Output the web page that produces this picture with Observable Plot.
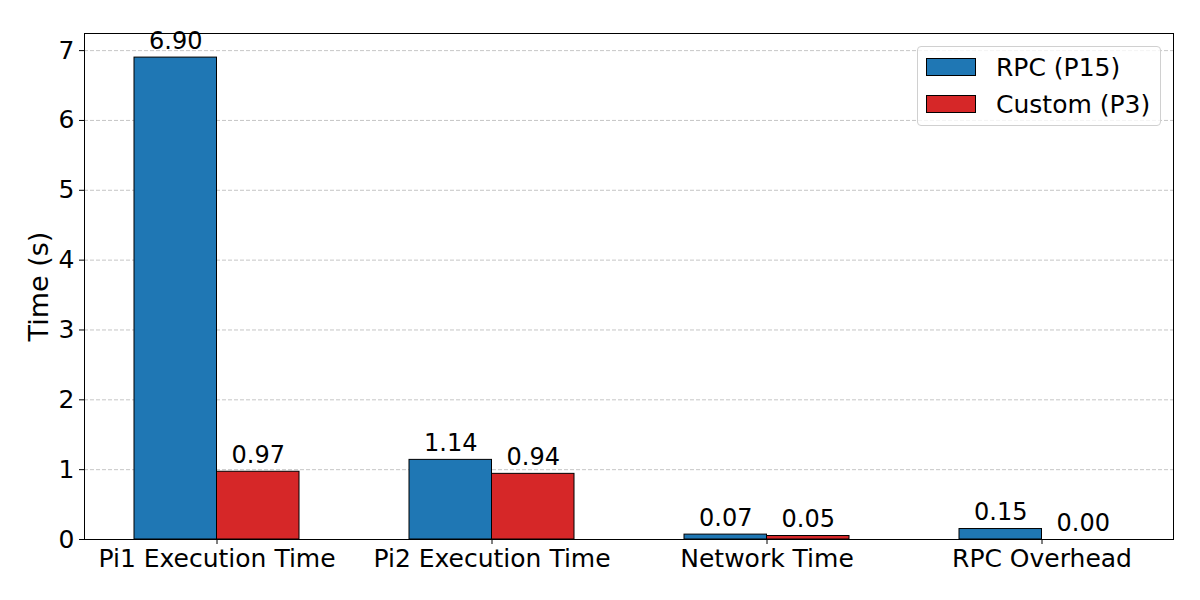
<!DOCTYPE html>
<html>
<head>
<meta charset="utf-8">
<script src="https://cdn.jsdelivr.net/npm/d3@7"></script>
<script src="https://cdn.jsdelivr.net/npm/@observablehq/plot@0.6"></script>
<style>
  body { margin: 0; background: #fff; font-family: "DejaVu Sans", sans-serif; }
  #wrap { position: relative; width: 1200px; height: 600px; }
  #legend {
    position: absolute; left: 917px; top: 46px; width: 242px; height: 78px;
    border: 1px solid #d0d0d0; border-radius: 4px; background: rgba(255,255,255,0.8);
    font-family: "DejaVu Sans", sans-serif; font-size: 25px; color: #000;
  }
  .row { position: absolute; left: 8px; height: 30px; display: flex; align-items: center; }
  .sw { width: 48px; height: 16px; border: 1px solid #000; margin-right: 20px; }
</style>
</head>
<body>
<div id="wrap">
  <div id="chart"></div>
  <div id="legend"></div>
</div>
<script>
const categories = ["Pi1 Execution Time", "Pi2 Execution Time", "Network Time", "RPC Overhead"];
const seriesNames = ["RPC (P15)", "Custom (P3)"];
const rpcValues = [6.90, 1.14, 0.07, 0.15];
const customValues = [0.97, 0.94, 0.05, 0.00];
const seriesColors = ["#1f77b4", "#d62728"];
const yTicks = [0, 1, 2, 3, 4, 5, 6, 7];
const yLabel = "Time (s)";

const W = 1200, H = 600;
const mL = 84, mR = 27, mT = 33, mB = 61;
const padIn = 0.4, padOut = 0.18;
const step = (W - mL - mR) / (categories.length - padIn + 2 * padOut);
const half = step * (1 - padIn) / 2;

const rows = [];
categories.forEach((c, i) => {
  rows.push({category: c, series: seriesNames[0], value: rpcValues[i]});
  rows.push({category: c, series: seriesNames[1], value: customValues[i]});
});
const rpcRows = rows.filter(d => d.series === seriesNames[0]);
const customRows = rows.filter(d => d.series === seriesNames[1]);

const chart = Plot.plot({
  width: W, height: H,
  marginLeft: mL, marginRight: mR, marginTop: mT, marginBottom: mB,
  style: {fontFamily: "DejaVu Sans, sans-serif", fontSize: "25px", color: "#000", background: "#fff"},
  x: {domain: categories, paddingInner: padIn, paddingOuter: padOut, label: null},
  y: {domain: [0, 7.245], label: null},
  color: {domain: seriesNames, range: seriesColors},
  marks: [
    Plot.gridY(yTicks, {stroke: "#b0b0b0", strokeOpacity: 0.9, strokeWidth: 0.8, strokeDasharray: "4,2"}),
    Plot.barY(rpcRows, {x: "category", y: "value", fill: "series", stroke: "#000", strokeWidth: 1, insetRight: half}),
    Plot.barY(customRows, {x: "category", y: "value", fill: "series", stroke: "#000", strokeWidth: 1, insetLeft: half}),
    Plot.text(rpcRows, {x: "category", y: "value", text: d => d.value.toFixed(2), dx: -half / 2, dy: -9, lineAnchor: "bottom", fontSize: 24, fill: "#000"}),
    Plot.text(customRows, {x: "category", y: "value", text: d => d.value.toFixed(2), dx: half / 2, dy: -9, lineAnchor: "bottom", fontSize: 24, fill: "#000"}),
    Plot.axisX({tickSize: 5, tickPadding: 5, fontSize: 25, label: null}),
    Plot.axisY({ticks: yTicks, tickSize: 5, tickPadding: 5, fontSize: 25, label: null}),
    Plot.text([yLabel], {frameAnchor: "left", textAnchor: "middle", rotate: -90, dx: -45, fontSize: 27, fill: "#000"}),
    Plot.frame({stroke: "#000", strokeWidth: 1})
  ]
});
document.getElementById("chart").appendChild(chart);

const legend = document.getElementById("legend");
seriesNames.forEach((name, i) => {
  const row = document.createElement("div");
  row.className = "row";
  row.style.top = (5 + i * 37) + "px";
  const sw = document.createElement("div");
  sw.className = "sw";
  sw.style.background = seriesColors[i];
  const t = document.createElement("span");
  t.textContent = name;
  row.appendChild(sw);
  row.appendChild(t);
  legend.appendChild(row);
});
</script>
</body>
</html>
